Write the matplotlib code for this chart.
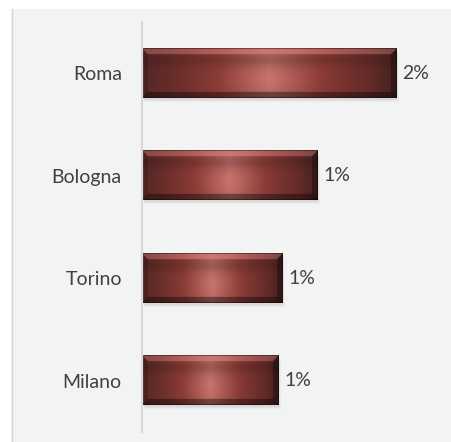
import numpy as np
import matplotlib
matplotlib.use("Agg")
import matplotlib.pyplot as plt
from matplotlib.patches import Rectangle
from matplotlib.lines import Line2D
import matplotlib.transforms as mtransforms

categories = ["Roma", "Bologna", "Torino", "Milano"]
values = [1.9, 1.31, 1.05, 1.02]
value_labels = ["2%", "1%", "1%", "1%"]

FW, FH = 451, 442
fig = plt.figure(figsize=(FW / 100, FH / 100), dpi=100)
fig.patch.set_facecolor("white")

# light panel behind the chart
fig.patches.append(Rectangle((11 / FW, 0), 1, 1 - 9 / FH, transform=fig.transFigure,
                             facecolor="#f2f3f3", edgecolor="none", zorder=-10))
fig.add_artist(Line2D([11.5 / FW, 11.5 / FW], [0, 1 - 9 / FH], color="#d8d8d8", lw=1.0,
                      transform=fig.transFigure, zorder=-9))

ax = fig.add_axes([142 / FW, (FH - 432) / FH, (445 - 142) / FW, (432 - 22) / FH])
ax.set_zorder(1)
ax.set_facecolor("none")
XMAX = 303 / 133.7
ax.set_xlim(0, XMAX)
ax.set_ylim(len(categories) - 0.5, -0.5)

for s in ["top", "right", "bottom"]:
    ax.spines[s].set_visible(False)
ax.spines["left"].set_color("#d9d9d9")
ax.spines["left"].set_linewidth(1.6)
ax.set_xticks([])
ax.set_yticks(range(len(categories)))
ax.set_yticklabels(categories, fontfamily="Lato", fontsize=14, color="#404040")
ax.tick_params(axis="y", length=0, pad=14.5)

BAR_H = 0.48
bars = ax.barh(range(len(categories)), values, height=BAR_H, color="none", edgecolor="none")


def bar_texture(wpx, hpx):
    wpx, hpx = max(int(round(wpx)), 2), max(int(round(hpx)), 2)
    X, Y = np.meshgrid(np.arange(wpx) + 0.5, np.arange(hpx) + 0.5)
    u = X / wpx
    v = Y / hpx
    stops = [0, 0.1, 0.3, 0.5, 0.7, 0.9, 1.0]
    cols = np.array([[86, 40, 38], [100, 44, 41], [136, 58, 53], [176, 102, 97],
                     [136, 58, 53], [98, 42, 40], [68, 33, 31]]) / 255.0
    img = np.stack([np.interp(u, stops, cols[:, k]) for k in range(3)], -1)
    glow = np.exp(-((u - 0.5) / 0.16) ** 2) * np.exp(-((v - 0.62) / 0.28) ** 2)
    img = img + glow[..., None] * np.array([0.09, 0.05, 0.05])
    img = img * (1 - 0.12 * np.exp(-((v - 0.25) / 0.12) ** 2))[..., None]
    b = 0.13 * hpx
    dl, dr, dt, db = X, wpx - X, Y, hpx - Y
    m = np.minimum.reduce([dl, dr, dt, db])
    top = (dt == m) & (dt < b)
    bottom = (db == m) & (db < b)
    left = (dl == m) & (dl < b)
    right = (dr == m) & (dr < b)
    hl = np.exp(-((u - 0.5) / 0.3) ** 2)
    pink = np.array([0.86, 0.52, 0.50])
    img[top] = img[top] * (0.65 - 0.25 * hl[top, None]) + pink * (0.35 + 0.25 * hl[top, None])
    img[bottom] = img[bottom] * 0.62
    img[left] = img[left] * 0.85
    img[right] = img[right] * 0.7
    edge = m < 1.0
    img[edge] = img[edge] * 0.6
    return np.clip(img, 0, 1)


for i, (bar, lab) in enumerate(zip(bars, value_labels)):
    x0, y0 = bar.get_x(), bar.get_y()
    x1, y1 = x0 + bar.get_width(), y0 + bar.get_height()
    p0 = ax.transData.transform((x0, y0))
    p1 = ax.transData.transform((x1, y1))
    wpx, hpx = abs(p1[0] - p0[0]), abs(p1[1] - p0[1])
    for k, a in enumerate([0.10, 0.08, 0.06]):
        ax.add_patch(Rectangle((x0, y0), x1 - x0, y1 - y0, transform=mtransforms.offset_copy(
            ax.transData, fig=fig, x=1 + k, y=-(2 + k), units="dots"),
            facecolor="#808080", alpha=a, edgecolor="none", zorder=1))
    tex = bar_texture(wpx, hpx)
    ax.imshow(tex, extent=(x0, x1, y1, y0), origin="upper", aspect="auto",
              interpolation="bilinear", zorder=2)
    ax.annotate(lab, xy=(x1, i), xytext=(4.5, 0), textcoords="offset points",
                va="center", ha="left", fontfamily="Lato", fontsize=14, color="#404040")

ax.set_xlim(0, XMAX)
ax.set_ylim(len(categories) - 0.5, -0.5)

fig.savefig("out.png", dpi=100, facecolor=fig.get_facecolor())
